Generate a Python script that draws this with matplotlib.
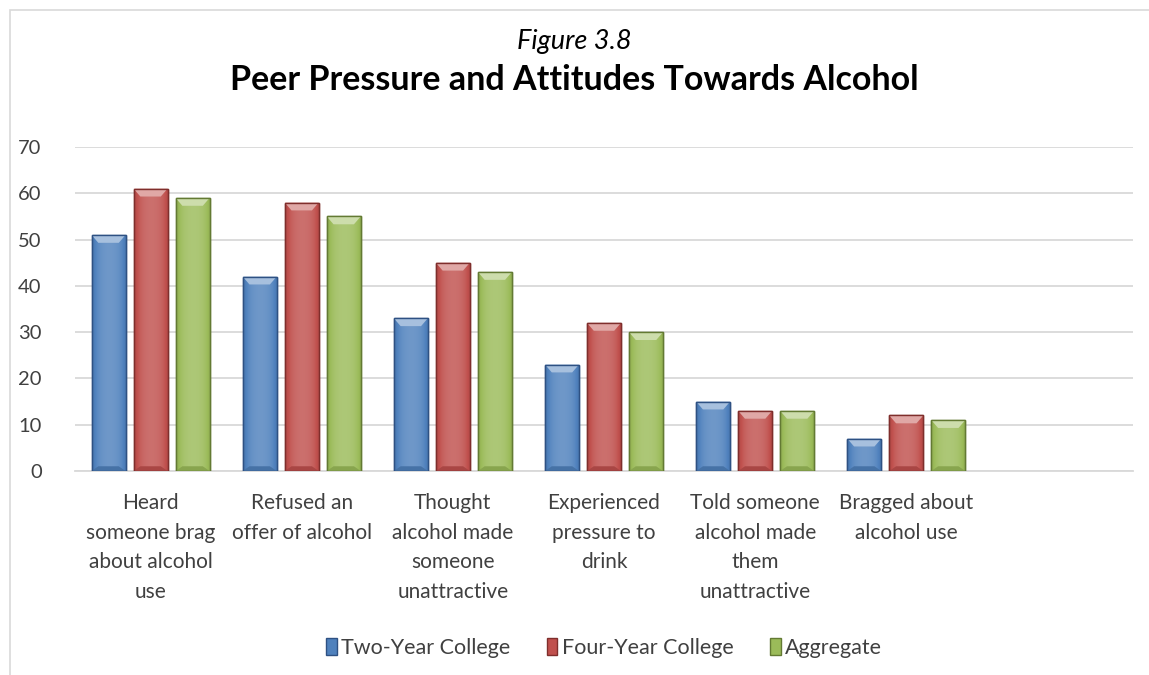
import numpy as np
import matplotlib.pyplot as plt
from matplotlib.colors import to_rgb
from matplotlib.patches import Polygon, Rectangle

plt.rcParams['font.family'] = ['Lato', 'DejaVu Sans']

categories = ["Heard\nsomeone brag\nabout alcohol\nuse",
              "Refused an\noffer of alcohol",
              "Thought\nalcohol made\nsomeone\nunattractive",
              "Experienced\npressure to\ndrink",
              "Told someone\nalcohol made\nthem\nunattractive",
              "Bragged about\nalcohol use",
              ""]
series_names = ["Two-Year College", "Four-Year College", "Aggregate"]
two_year = [51, 42, 33, 23, 15, 7]
four_year = [61, 58, 45, 32, 13, 12]
aggregate = [59, 55, 43, 30, 13, 11]

colors = ['#4F81BD', '#C0504D', '#9BBB59']
edges = ['#2E5183', '#7F2E2C', '#637A33']

fig = plt.figure(figsize=(11.49, 6.75), dpi=100)
# outer chart border
fig.patches.append(Rectangle((10 / 1149, -0.01), 1.1, (675 - 10) / 675 + 0.01,
                             transform=fig.transFigure, fill=False,
                             edgecolor='#D9D9D9', lw=1.2))
ax = fig.add_axes([75 / 1149, 1 - 471 / 675, (1133 - 75) / 1149, (471 - 147) / 675])

n = len(categories)
x = np.arange(n)
w = 0.225
step = 0.278


def shade(c, f):
    c = np.array(to_rgb(c))
    if f > 0:
        return c + (1 - c) * f
    return c * (1 + f)


for k, vals in enumerate([two_year, four_year, aggregate]):
    xs = x[:len(vals)] + (k - 1) * step
    bars = ax.bar(xs, vals, width=w, color=colors[k], edgecolor=edges[k],
                  linewidth=1.0, zorder=3, label=series_names[k])
    # horizontal gradient
    t = np.linspace(-1, 1, 60)
    prof = 0.18 * (1 - t ** 2) - 0.12 * t ** 4
    grad = np.array([shade(colors[k], p) for p in prof])[None, :, :]
    for b, xv, v in zip(bars, xs, vals):
        im = ax.imshow(grad, extent=[xv - w / 2, xv + w / 2, 0, v],
                       aspect='auto', zorder=3.5, interpolation='bilinear')
        im.set_clip_path(b)
        bh = 1.7
        bw = 0.045
        top = Polygon([[xv - w / 2, v], [xv + w / 2, v],
                       [xv + w / 2 - bw, v - bh], [xv - w / 2 + bw, v - bh]],
                      closed=True, facecolor=shade(colors[k], 0.5),
                      edgecolor='none', zorder=4)
        ax.add_patch(top)
        bot = Polygon([[xv - w / 2, 0], [xv + w / 2, 0],
                       [xv + w / 2 - bw, bh * 0.6], [xv - w / 2 + bw, bh * 0.6]],
                      closed=True, facecolor=shade(colors[k], -0.12),
                      edgecolor='none', zorder=4)
        ax.add_patch(bot)
        ax.add_patch(Rectangle((xv - w / 2, 0), w, v, fill=False,
                               edgecolor=edges[k], lw=1.0, zorder=4.5))

ax.set_xlim(-0.5, n - 0.5)
ax.set_ylim(0, 70)
ax.set_yticks(range(0, 71, 10))
ax.set_xticks(x)
ax.set_xticklabels(categories, fontsize=15, color='#404040', linespacing=1.6,
                   va='top')
ax.tick_params(axis='x', length=0, pad=16)
ax.tick_params(axis='y', length=0, pad=24, labelsize=14.5, labelcolor='#404040')
ax.grid(axis='y', color='#D9D9D9', lw=1.3, zorder=0)
for s in ['left', 'right', 'top']:
    ax.spines[s].set_visible(False)
ax.spines['bottom'].set_color('#D9D9D9')
ax.spines['bottom'].set_linewidth(1.3)

fig.text(0.5, 1 - 41 / 675, "Figure 3.8", ha='center', va='center',
         fontsize=19.5, style='italic')
fig.text(0.5, 1 - 80 / 675, "Peer Pressure and Attitudes Towards Alcohol",
         ha='center', va='center', fontsize=24.5, fontweight='bold')

leg = ax.legend(loc='center', bbox_to_anchor=(0.5, (648 - 471) / -324),
                ncol=3, frameon=False, fontsize=15.5, handlelength=0.5,
                handleheight=0.8, columnspacing=1.7, handletextpad=0.2,
                labelcolor='#404040')

fig.savefig('out.png', dpi=100)
